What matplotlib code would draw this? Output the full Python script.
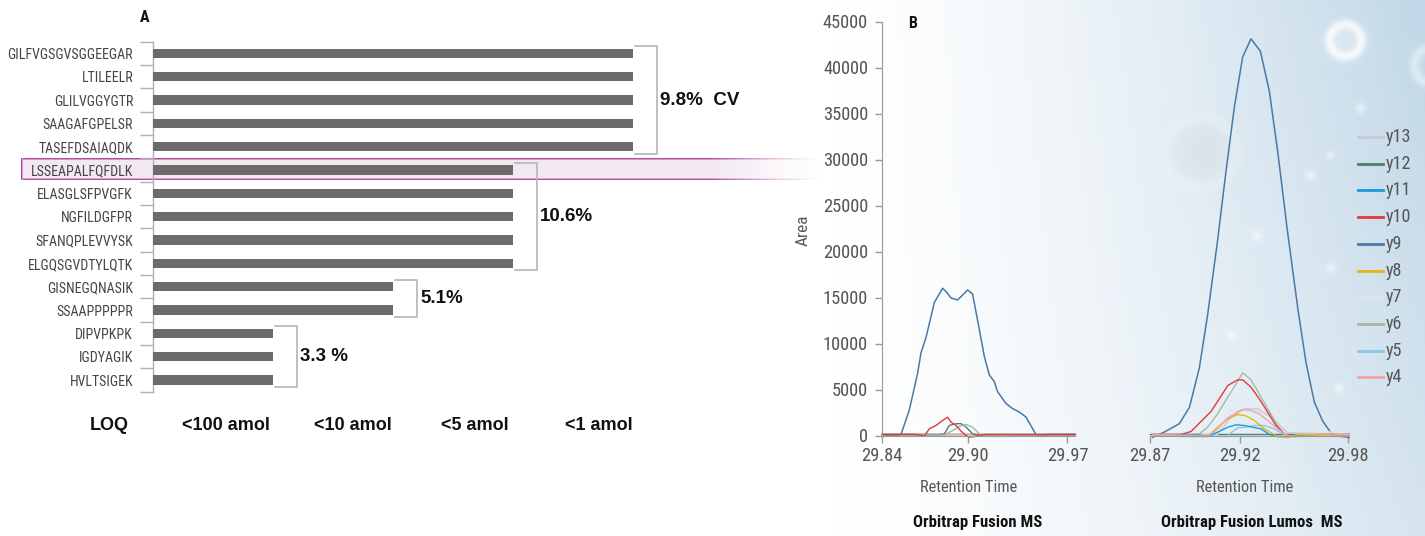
import os
import numpy as np
import matplotlib
matplotlib.use('Agg')
import matplotlib.pyplot as plt
from matplotlib import font_manager as fm
from matplotlib.font_manager import FontProperties
from matplotlib.textpath import TextPath
from matplotlib.lines import Line2D

W, H = 1425, 536
DPI = 100

_files = {}
for _f in fm.fontManager.ttflist:
    _files.setdefault(os.path.basename(_f.fname), _f.fname)


def find_font(cands):
    for c in cands:
        if c in _files:
            return _files[c]
    return None


nar_reg = find_font(['LiberationSansNarrow-Regular.ttf', 'NotoSans-Condensed.ttf',
                     'RobotoCondensed-Regular.ttf', 'OpenSans-CondensedRegular.ttf',
                     'DejaVuSansCondensed.ttf'])
nar_bold = find_font(['LiberationSansNarrow-Bold.ttf', 'NotoSans-CondensedBold.ttf',
                      'RobotoCondensed-Bold.ttf', 'OpenSans-CondensedBold.ttf',
                      'DejaVuSansCondensed-Bold.ttf'])
FP_N = FontProperties(fname=nar_reg) if nar_reg else FontProperties(family='Liberation Sans')
FP_NB = FontProperties(fname=nar_bold) if nar_bold else FontProperties(family='Liberation Sans',
                                                                        weight='bold')
FP_B = FontProperties(family='Liberation Sans', weight='bold')


def fit(fp, text, target_px, ref=10.0):
    w = TextPath((0, 0), text, size=ref, prop=fp).get_extents().width * DPI / 72.0
    return ref * target_px / w


def prop(fp, size):
    p = fp.copy()
    p.set_size(size)
    return p


# ---------------- Panel A data ----------------
peptides = ['GILFVGSGVSGGEEGAR', 'LTILEELR', 'GLILVGGYGTR', 'SAAGAFGPELSR',
            'TASEFDSAIAQDK', 'LSSEAPALFQFDLK', 'ELASGLSFPVGFK', 'NGFILDGFPR',
            'SFANQPLEVVYSK', 'ELGQSGVDTYLQTK', 'GISNEGQNASIK', 'SSAAPPPPPR',
            'DIPVPKPK', 'IGDYAGIK', 'HVLTSIGEK']
loq_level = [4, 4, 4, 4, 4, 3, 3, 3, 3, 3, 2, 2, 1, 1, 1]
loq_labels = ['<100 amol', '<10 amol', '<5 amol', '<1 amol']
cv_groups = [(0, 4), (5, 9), (10, 11), (12, 14)]
cv_labels = ['9.8%  CV', '10.6%', '5.1%', '3.3 %']
highlight = 'LSSEAPALFQFDLK'

# ---------------- Panel B data ----------------
ions = ['y13', 'y12', 'y11', 'y10', 'y9', 'y8', 'y7', 'y6', 'y5', 'y4']
ion_colors = {'y13': '#c9c9d4', 'y12': '#4f7d66', 'y11': '#1a9bd7', 'y10': '#e23a3a',
              'y9': '#4a79a5', 'y8': '#e8b418', 'y7': '#e4e4ec', 'y6': '#a7b8a8',
              'y5': '#8cc6ea', 'y4': '#f3a3a3'}

# Orbitrap Fusion MS (left)
fus_t_y9 = [29.840, 29.8474, 29.8533, 29.8591, 29.8650, 29.8673, 29.8708, 29.8767, 29.8825,
            29.8853, 29.8884, 29.8930, 29.8965, 29.9000, 29.9035, 29.9082, 29.9117,
            29.9152, 29.9187, 29.9210, 29.9269, 29.9315, 29.9362, 29.9409, 29.9479,
            29.9514, 29.9561, 29.975]
fus_y9 = [110, -60, 110, 2750, 6780, 8970, 10620, 14470, 16010, 15570, 14950, 14730,
          15270, 15820, 15380, 11540, 8610, 6590, 5860, 4760, 3480, 2930, 2560, 2010,
          110, -110, 110, 110]
fus_t_y10 = [29.840, 29.8638, 29.8696, 29.8732, 29.8778, 29.8825, 29.8860, 29.8884,
             29.8919, 29.8954, 29.8989, 29.9012, 29.9047, 29.9117, 29.975]
fus_y10 = [120, 120, -70, 730, 1090, 1630, 1990, 1450, 1090, 470, 0, -180, -110, 110, 110]
fus_t_y12 = [29.840, 29.8802, 29.8837, 29.8872, 29.8919, 29.8954, 29.8989, 29.9035,
             29.9070, 29.975]
fus_y12 = [100, 100, 180, 1100, 1280, 1280, 920, 180, 50, 100]
fus_t_y6 = [29.840, 29.8837, 29.8895, 29.8942, 29.8989, 29.9035, 29.9082, 29.9117, 29.975]
fus_y6 = [100, 50, 540, 980, 1200, 900, 180, 0, 100]
fus_t_flat = [29.840, 29.975]
fus_flat = [130, 130]

# Orbitrap Fusion Lumos MS (right)
lum_t_y9 = [29.8715, 29.8780, 29.8863, 29.8919, 29.8974, 29.9020, 29.9076, 29.9122,
            29.9169, 29.9215, 29.9261, 29.9313, 29.9363, 29.9409, 29.9465, 29.9521,
            29.9567, 29.9613, 29.9659, 29.9706, 29.9761, 29.9807]
lum_y9 = [-200, 380, 1280, 3060, 7330, 13090, 21270, 28700, 35760, 41150, 43120, 41780,
          37430, 30930, 22010, 13840, 7890, 3620, 1580, 270, -100, -200]
lum_t_y10 = [29.8715, 29.8872, 29.8928, 29.8983, 29.9039, 29.9085, 29.9132, 29.9187,
             29.9215, 29.9261, 29.9307, 29.9354, 29.9400, 29.9446, 29.9502, 29.9557,
             29.9632, 29.9807]
lum_y10 = [110, 110, 435, 1520, 2610, 3990, 5435, 6050, 6050, 5255, 3990, 2540, 1090,
           180, -110, 0, 110, 110]
lum_t_y6 = [29.8715, 29.8872, 29.8956, 29.9020, 29.9076, 29.9132, 29.9178, 29.9215,
            29.9261, 29.9307, 29.9354, 29.9409, 29.9456, 29.9502, 29.9807]
lum_y6 = [110, -110, -110, 906, 2355, 4165, 5616, 6812, 6050, 4530, 2899, 1087, 0, -110, 110]
lum_t_y4 = [29.8715, 29.8965, 29.9020, 29.9076, 29.9132, 29.9206, 29.9252, 29.9307,
            29.9354, 29.9409, 29.9465, 29.9521, 29.9807]
lum_y4 = [110, 0, -110, 725, 1920, 2790, 2790, 2355, 1630, 725, 0, -110, 110]
lum_t_y8 = [29.8715, 29.8946, 29.9020, 29.9076, 29.9132, 29.9187, 29.9233, 29.9280,
            29.9335, 29.9409, 29.9465, 29.9521, 29.9807]
lum_y8 = [110, -110, -110, 906, 1812, 2283, 2138, 1630, 725, -110, -220, 110, 110]
lum_t_y11 = [29.8715, 29.8965, 29.9020, 29.9076, 29.9132, 29.9178, 29.9224, 29.9270,
             29.9317, 29.9363, 29.9409, 29.9465, 29.9807]
lum_y11 = [110, 110, -110, 362, 906, 1160, 1087, 906, 725, 110, -110, -110, 110]
lum_t_y5 = [29.8715, 29.8965, 29.9122, 29.9187, 29.9233, 29.9280, 29.9335, 29.9391,
            29.9437, 29.9483, 29.9807]
lum_y5 = [110, 0, -110, 833, 906, 1087, 1087, 725, 181, -110, 110]
lum_t_y7 = [29.8715, 29.9057, 29.9150, 29.9298, 29.9428, 29.9557, 29.9706, 29.9807]
lum_y7 = [110, 110, 2700, 2700, 1810, 900, 360, 110]
lum_t_y13 = [29.8715, 29.9076, 29.9150, 29.9224, 29.9298, 29.9372, 29.9465, 29.9807]
lum_y13 = [110, 110, 2000, 2900, 2900, 2000, 300, 110]
lum_t_flat = [29.870, 29.980]
lum_flat = [110, 110]

fusion_series = {'y9': (fus_t_y9, fus_y9), 'y10': (fus_t_y10, fus_y10),
                 'y12': (fus_t_y12, fus_y12), 'y6': (fus_t_y6, fus_y6),
                 'y13': (fus_t_flat, fus_flat), 'y11': (fus_t_flat, fus_flat),
                 'y8': (fus_t_flat, fus_flat), 'y7': (fus_t_flat, fus_flat),
                 'y5': (fus_t_flat, fus_flat), 'y4': (fus_t_flat, fus_flat)}
lumos_series = {'y9': (lum_t_y9, lum_y9), 'y12': (lum_t_flat, lum_flat),
                'y7': (lum_t_y7, lum_y7), 'y13': (lum_t_y13, lum_y13),
                'y6': (lum_t_y6, lum_y6), 'y10': (lum_t_y10, lum_y10),
                'y5': (lum_t_y5, lum_y5), 'y11': (lum_t_y11, lum_y11),
                'y8': (lum_t_y8, lum_y8), 'y4': (lum_t_y4, lum_y4)}

# font sizes fitted to the widths seen in the reference
S_PEP = min(10.0, fit(FP_N, 'GILFVGSGVSGGEEGAR', 130))
S_TICK = min(14.0, fit(FP_N, '45000', 44))
S_RT = min(13.0, fit(FP_N, 'Retention Time', 96))
S_TITLE = min(13.0, fit(FP_NB, 'Orbitrap Fusion MS', 128))
S_LEG = min(13.5, fit(FP_N, 'y13', 24))
S_AREA = min(13.0, fit(FP_N, 'Area', 30))

# ---------------- Figure ----------------
fig = plt.figure(figsize=(W / DPI, H / DPI), dpi=DPI)
fig.patch.set_facecolor('white')


def fx(px):
    return px / W


def fy(py):
    return 1 - py / H


# background gradient with soft bokeh
bg = fig.add_axes([0, 0, 1, 1], zorder=-10)
xx, yy = np.meshgrid(np.arange(W), np.arange(H))
a = np.clip((xx - 830) / 595.0, 0, 1) ** 1.4
a = a * (1.0 - 0.35 * yy / H)
base = np.array([1.0, 1.0, 1.0])
blue = np.array([192, 215, 231]) / 255.0
img = base[None, None, :] * (1 - a[..., None]) + blue[None, None, :] * a[..., None]


def add_white(img, strength):
    return img + (1 - img) * np.clip(strength, 0, 1)[..., None]


def add_dark(img, strength):
    return img * (1 - 0.04 * np.clip(strength, 0, 1))[..., None]


r = np.hypot(xx - 1345, yy - 40)
img = add_white(img, 0.7 * np.exp(-((r - 16) / 5.0) ** 2) + 0.3 * np.exp(-(r / 16.0) ** 2))
r = np.hypot(xx - 1200, yy - 152)
img = add_dark(img, np.exp(-(r / 30.0) ** 2))
img = add_white(img, 0.2 * np.exp(-((r - 36) / 6.0) ** 2))
r = np.hypot(xx - 1432, yy - 65)
img = add_white(img, 0.45 * np.exp(-((r - 18) / 5.0) ** 2))
for (cx, cy, rr) in [(1360, 108, 5), (1310, 175, 5), (1257, 235, 5), (1330, 268, 5),
                     (1338, 388, 5), (1230, 335, 5), (1330, 155, 4), (1230, 388, 4)]:
    r = np.hypot(xx - cx, yy - cy)
    img = add_white(img, 0.5 * np.exp(-(r / rr) ** 2))
bg.imshow(img, extent=[0, W, H, 0], aspect='auto', interpolation='bilinear')
bg.set_xlim(0, W)
bg.set_ylim(H, 0)
bg.axis('off')

# highlight band for LSSEAPALFQFDLK
hx0, hx1, hy0, hy1 = 21, 820, 157.5, 180
hw, hh = int(hx1 - hx0), 22
band = np.zeros((hh, hw, 4))
purple = np.array([176, 76, 160]) / 255.0
fill = np.array([242, 232, 242]) / 255.0
band[:, :, :3] = fill
band[0, :, :3] = purple
band[1, :, :3] = 0.5 * purple + 0.5 * fill
band[-1, :, :3] = purple
band[-2, :, :3] = 0.6 * fill + 0.4 * purple
band[:, 0, :3] = purple
band[:, 1, :3] = 0.5 * purple + 0.5 * fill
alpha = np.clip((hw - np.arange(hw)) / 110.0, 0, 1) ** 1.2
band[:, :, 3] = alpha[None, :]
hl = fig.add_axes([fx(hx0), fy(hy1), hw / W, hh / H], zorder=0)
hl.imshow(band, aspect='auto', interpolation='nearest')
hl.axis('off')

# ---------------- Panel A ----------------
axA = fig.add_axes([fx(152.5), fy(391.7), 660 / W, 350 / H], zorder=1)
axA.set_facecolor('none')
ypos = np.arange(len(peptides))
axA.barh(ypos, loq_level, height=0.39, color='#6b6b6b', zorder=3)
axA.set_xlim(0, 5.5)
axA.set_ylim(len(peptides) - 0.5, -0.5)
for s in ['top', 'right', 'bottom']:
    axA.spines[s].set_visible(False)
axA.spines['left'].set_color('#b0b0b0')
axA.spines['left'].set_linewidth(1.0)
axA.set_xticks([])
axA.set_yticks(ypos)
axA.set_yticklabels(peptides, color='#444444', fontproperties=prop(FP_N, S_PEP))
axA.tick_params(axis='y', which='major', length=0, pad=14)
axA.set_yticks(np.arange(-0.5, len(peptides), 1.0), minor=True)
axA.tick_params(axis='y', which='minor', length=9.5, width=1.0, color='#b0b0b0')

bcol = '#b5b5b5'
for (g0, g1), lab in zip(cv_groups, cv_labels):
    end = loq_level[g0]
    xs = end + 0.2
    axA.plot([end + 0.02, xs, xs, end + 0.02], [g0 - 0.3, g0 - 0.3, g1 + 0.3, g1 + 0.3],
             color=bcol, lw=1.2, clip_on=False, zorder=2)
    axA.text(end + 0.23, (g0 + g1) / 2.0, lab, fontproperties=prop(FP_B, 13.5),
             va='center', ha='left', color='#111111', clip_on=False)

loq_x = [0.61, 1.67, 2.69, 3.72]
axA.text(-0.36, 15.93, 'LOQ', fontproperties=prop(FP_B, 13),
         ha='center', va='center', color='#111111', clip_on=False)
for xpos, lab in zip(loq_x, loq_labels):
    axA.text(xpos, 15.93, lab, fontproperties=prop(FP_B, 13),
             ha='center', va='center', color='#111111', clip_on=False)

fig.text(fx(145), fy(18), 'A', fontproperties=prop(FP_NB, 11.5),
         ha='center', va='center', color='#111111')

# ---------------- Panel B ----------------
ymin, ymax = -700, 45000
ppu = 368 / 40000.0  # pixels per unit
y0px = 435.5
ax_bot = y0px - ymin * ppu
ax_top = y0px - ymax * ppu
hfrac = (ax_bot - ax_top) / H

axL = fig.add_axes([fx(882), fy(ax_bot), 192.6 / W, hfrac], zorder=2)
axR = fig.add_axes([fx(1150), fy(ax_bot), 198 / W, hfrac], zorder=2)

draw_order = ['y13', 'y11', 'y8', 'y7', 'y5', 'y4', 'y9', 'y12', 'y6', 'y10']
for k in draw_order:
    t, v = fusion_series[k]
    axL.plot(t, v, color=ion_colors[k], lw=1.1 if k == 'y9' else 1.0, clip_on=False)
lum_order = ['y9', 'y12', 'y7', 'y13', 'y6', 'y10', 'y5', 'y11', 'y8', 'y4']
for k in lum_order:
    t, v = lumos_series[k]
    axR.plot(t, v, color=ion_colors[k], lw=1.1 if k == 'y9' else 1.0, clip_on=False)

axL.set_xlim(29.84, 29.975)
axR.set_xlim(29.87, 29.98)
for ax in (axL, axR):
    ax.set_ylim(ymin, ymax)
    ax.set_facecolor('none')
    ax.spines['top'].set_visible(False)
    ax.spines['right'].set_visible(False)
    ax.spines['bottom'].set_position(('data', 0))
    ax.spines['bottom'].set_color('#9a9a9a')
    ax.spines['left'].set_color('#9a9a9a')
    ax.tick_params(axis='both', colors='#9a9a9a', labelcolor='#555555', length=5,
                   width=1.0, pad=3)

axL.spines['left'].set_bounds(0, 45000)
axL.set_yticks(np.arange(0, 45001, 5000))
axL.set_xticks([29.84, 29.90, 29.97])
axL.set_xticklabels(['29.84', '29.90', '29.97'])
axL.tick_params(axis='y', pad=5)
axR.spines['left'].set_visible(False)
axR.set_yticks([])
axR.set_xticks([29.87, 29.92, 29.98])
axR.set_xticklabels(['29.87', '29.92', '29.98'])
for ax in (axL, axR):
    for lab in ax.get_xticklabels() + ax.get_yticklabels():
        lab.set_fontproperties(prop(FP_N, S_TICK))

fig.text(fx(969), fy(487), 'Retention Time', fontproperties=prop(FP_N, S_RT),
         color='#555555', ha='center', va='center')
fig.text(fx(1245), fy(487), 'Retention Time', fontproperties=prop(FP_N, S_RT),
         color='#555555', ha='center', va='center')
fig.text(fx(978), fy(523), 'Orbitrap Fusion MS', fontproperties=prop(FP_NB, S_TITLE),
         color='#111111', ha='center', va='center')
fig.text(fx(1252), fy(523), 'Orbitrap Fusion Lumos  MS', fontproperties=prop(FP_NB, S_TITLE),
         color='#111111', ha='center', va='center')
fig.text(fx(803), fy(230), 'Area', fontproperties=prop(FP_N, S_AREA), color='#555555',
         rotation=90, ha='center', va='center')
fig.text(fx(913), fy(24), 'B', fontproperties=prop(FP_NB, 11.5),
         ha='center', va='center', color='#111111')

# legend (ion key), laid out as in the reference
leg_top, leg_step = 137, 26.7
for i, k in enumerate(ions):
    yk = leg_top + i * leg_step
    fig.add_artist(Line2D([fx(1358), fx(1383)], [fy(yk), fy(yk)], color=ion_colors[k],
                          lw=2.0, transform=fig.transFigure))
    fig.text(fx(1386), fy(yk), k, fontproperties=prop(FP_N, S_LEG), color='#555555',
             ha='left', va='center')

fig.savefig('out.png', dpi=DPI)
